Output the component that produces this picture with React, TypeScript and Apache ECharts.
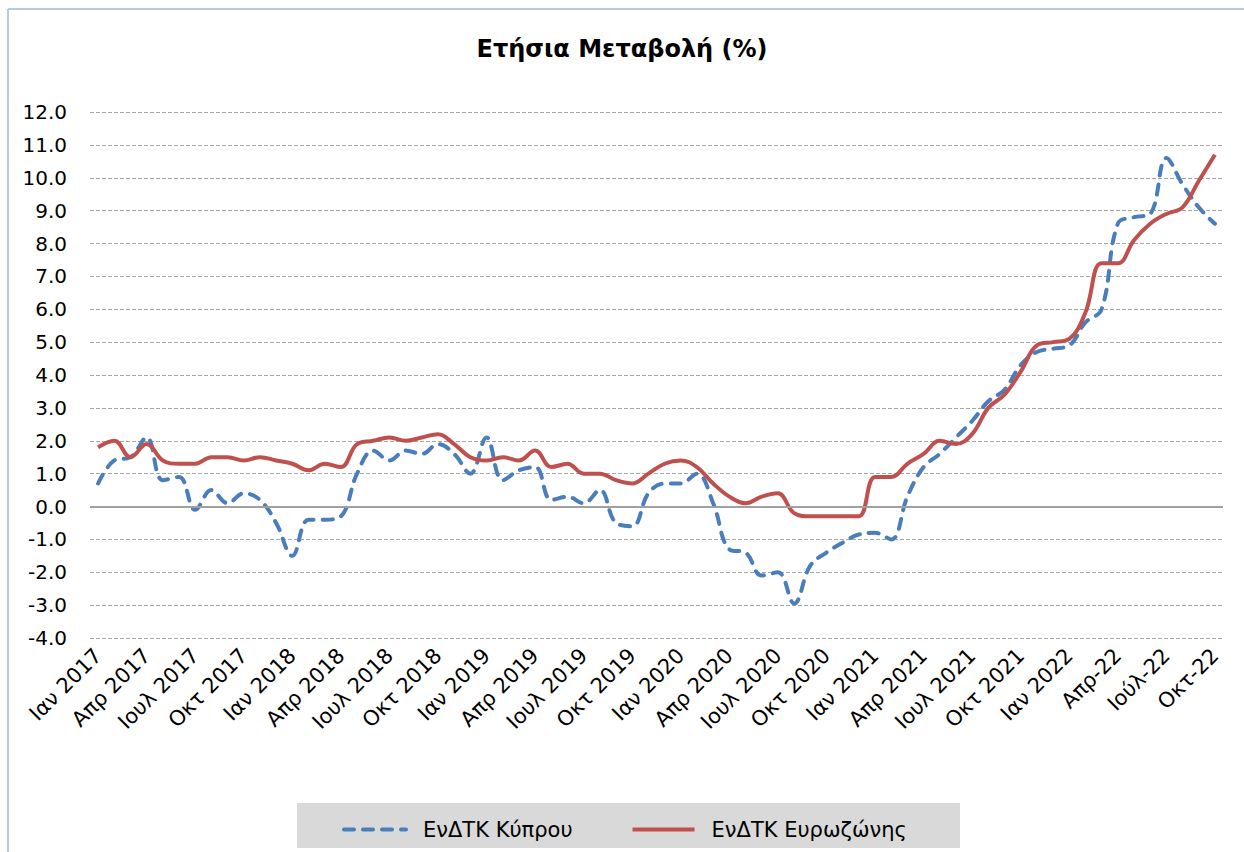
import React, { useEffect, useRef } from "react";
import * as echarts from "echarts";

const monthNames = ["Ιαν", "Φεβ", "Μαρ", "Απρ", "Μαϊ", "Ιουν", "Ιουλ", "Αυγ", "Σεπ", "Οκτ", "Νοε", "Δεκ"];
const fullYears = [2017, 2018, 2019, 2020, 2021];
const shortMonths2022 = ["Φεβ-22", "Μαρ-22", "Απρ-22", "Μάι-22", "Ιούν-22", "Ιούλ-22", "Αύγ-22", "Σεπ-22", "Οκτ-22"];

const categories: string[] = [];
fullYears.forEach((y) => monthNames.forEach((m) => categories.push(`${m} ${y}`)));
categories.push("Ιαν 2022");
shortMonths2022.forEach((m) => categories.push(m));

const cyprusHicp = [
  0.7, 1.4, 1.5, 2.1, 0.8, 0.9, -0.1, 0.5, 0.1, 0.4, 0.2, -0.5,
  -1.5, -0.4, -0.4, -0.3, 1.0, 1.7, 1.4, 1.7, 1.6, 1.9, 1.6, 1.0,
  2.1, 0.8, 1.1, 1.2, 0.2, 0.3, 0.1, 0.5, -0.5, -0.6, 0.4, 0.7,
  0.7, 1.0, 0.1, -1.3, -1.4, -2.1, -2.0, -2.95, -1.8, -1.4, -1.1, -0.85,
  -0.8, -1.0, 0.3, 1.2, 1.6, 2.1, 2.6, 3.2, 3.55, 4.3, 4.7, 4.8,
  4.9, 5.6, 6.0, 8.6, 8.8, 8.9, 10.6, 9.8, 9.1, 8.6,
];

const euroHicp = [
  1.8, 2.0, 1.5, 1.9, 1.4, 1.3, 1.3, 1.5, 1.5, 1.4, 1.5, 1.4,
  1.3, 1.1, 1.3, 1.2, 1.9, 2.0, 2.1, 2.0, 2.1, 2.2, 1.9, 1.5,
  1.4, 1.5, 1.4, 1.7, 1.2, 1.3, 1.0, 1.0, 0.8, 0.7, 1.0, 1.3,
  1.4, 1.2, 0.7, 0.3, 0.1, 0.3, 0.4, -0.2, -0.3, -0.3, -0.3, -0.3,
  0.9, 0.9, 1.3, 1.6, 2.0, 1.9, 2.2, 3.0, 3.4, 4.1, 4.9, 5.0,
  5.1, 5.9, 7.4, 7.4, 8.1, 8.6, 8.9, 9.1, 9.9, 10.7,
];

const seriesNames = ["ΕνΔΤΚ Κύπρου", "ΕνΔΤΚ Ευρωζώνης"];
const titleText = "Ετήσια Μεταβολή (%)";

const FONT = "Verdana, 'DejaVu Sans', sans-serif";

export default function App() {
  const ref = useRef<HTMLDivElement>(null);
  useEffect(() => {
    if (!ref.current) return;
    const chart = echarts.init(ref.current, undefined, { renderer: "svg" });
    chart.setOption({
      animation: false,
      backgroundColor: "#ffffff",
      title: {
        text: titleText,
        left: "center",
        top: 32,
        textStyle: { fontFamily: FONT, fontSize: 24, fontWeight: "bold", color: "#000" },
      },
      graphic: [
        {
          type: "rect",
          z: -1,
          shape: { x: 297, y: 803, width: 663, height: 45 },
          style: { fill: "#d9d9d9" },
        },
        {
          type: "line",
          shape: { x1: 8, y1: 9, x2: 1244, y2: 9 },
          style: { stroke: "#b9c9df", lineWidth: 2 },
        },
        {
          type: "line",
          shape: { x1: 8, y1: 9, x2: 8, y2: 852 },
          style: { stroke: "#b9c9df", lineWidth: 2 },
        },
      ],
      legend: {
        data: seriesNames,
        left: 337,
        top: 814,
        itemWidth: 62,
        itemHeight: 16,
        itemGap: 58,
        itemStyle: { opacity: 0 },
        lineStyle: { width: 4 },
        textStyle: { fontFamily: FONT, fontSize: 21, color: "#000", padding: [0, 0, 0, 12] },
      },
      grid: { left: 90, right: 21, top: 112, bottom: 214, containLabel: false },
      xAxis: {
        type: "category",
        data: categories,
        boundaryGap: true,
        axisLine: { show: false },
        axisTick: { show: false },
        splitLine: { show: false },
        axisLabel: {
          interval: 2,
          rotate: 45,
          margin: 14,
          fontFamily: FONT,
          fontSize: 21,
          color: "#000",
        },
      },
      yAxis: {
        type: "value",
        min: -4,
        max: 12,
        interval: 1,
        axisLine: { show: false },
        axisTick: { show: false },
        axisLabel: {
          margin: 23,
          fontFamily: FONT,
          fontSize: 20,
          color: "#000",
          formatter: (v: number) => v.toFixed(1),
        },
        splitLine: { lineStyle: { color: "#a6a6a6", type: [4, 2], width: 1 } },
      },
      series: [
        {
          name: seriesNames[0],
          type: "line",
          data: cyprusHicp,
          smooth: 0.4,
          showSymbol: false,
          symbol: "none",
          color: "#4a7ebb",
          lineStyle: { color: "#4a7ebb", width: 4, type: [10, 9], cap: "round" },
          markLine: {
            silent: true,
            symbol: "none",
            label: { show: false },
            lineStyle: { color: "#a0a0a0", width: 2, type: "solid" },
            data: [{ yAxis: 0 }],
          },
          z: 2,
        },
        {
          name: seriesNames[1],
          type: "line",
          data: euroHicp,
          smooth: 0.4,
          showSymbol: false,
          symbol: "none",
          color: "#c0504d",
          lineStyle: { color: "#c0504d", width: 4, type: "solid" },
          z: 3,
        },
      ],
    });
    return () => chart.dispose();
  }, []);
  return (
    <div
      ref={ref}
      style={{ position: "absolute", left: 0, top: 0, width: 1244, height: 852 }}
    />
  );
}
